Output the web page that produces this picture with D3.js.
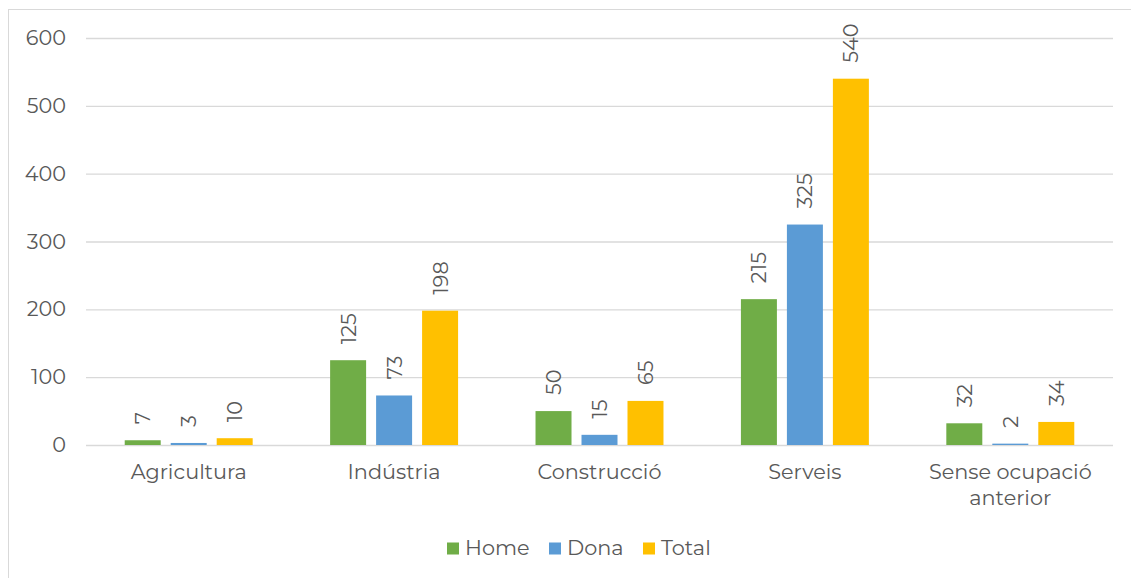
<!DOCTYPE html>
<html><head><meta charset="utf-8">
<script src="https://cdn.jsdelivr.net/npm/d3@7"></script>
<style>
html,body{margin:0;padding:0;background:#fff;}
svg{display:block;}
text{font-family:Montserrat,"DejaVu Sans",sans-serif;fill:#595959;}
</style></head>
<body>
<svg id="chart" width="1131" height="578"></svg>
<script>
const categories = ["Agricultura","Indústria","Construcció","Serveis","Sense ocupació anterior"];
const seriesNames = ["Home","Dona","Total"];
const home = [7,125,50,215,32];
const dona = [3,73,15,325,2];
const total = [10,198,65,540,34];
const yTicks = [0,100,200,300,400,500,600];
const colors = ["#70ad47","#5b9bd5","#ffc000"];

(function(){
const seriesValues = [home, dona, total];
const svg = d3.select("#chart");
const W = 1131, H = 578;
const FS = "20.8px";

svg.append("rect").attr("x",8.5).attr("y",9.5).attr("width",W+10).attr("height",H+10)
  .attr("fill","none").attr("stroke","#d9d9d9").attr("stroke-width",1);

const pLeft = 86, pRight = 1113, pTop = 38, pBottom = 445;
const y = d3.scaleLinear().domain([0,600]).range([pBottom, pTop]);
const x0 = d3.scaleBand().domain(categories).range([pLeft, pRight]).paddingInner(0).paddingOuter(0);
const bw = x0.bandwidth();
const x1 = d3.scaleBand().domain(seriesNames).range([bw*0.1885, bw*0.8115]).paddingInner(10/46).paddingOuter(0);

const yAxis = d3.axisLeft(y).tickValues(yTicks).tickSize(-(pRight-pLeft)).tickPadding(20);
const gy = svg.append("g").attr("transform",`translate(${pLeft},0)`).call(yAxis);
gy.select(".domain").remove();
gy.selectAll(".tick line").attr("stroke","#d9d9d9").attr("stroke-width",1.3);
gy.selectAll(".tick text").style("font-size",FS).attr("fill","#595959")
  .style("font-family",'Montserrat,"DejaVu Sans",sans-serif');

const groups = svg.append("g").selectAll("g").data(categories).join("g")
  .attr("transform", d => `translate(${x0(d)},0)`);
groups.each(function(c, i){
  const g = d3.select(this);
  const data = seriesNames.map((s, j) => ({s, v: seriesValues[j][i], c: colors[j]}));
  g.selectAll("rect").data(data).join("rect")
    .attr("x", d => x1(d.s)).attr("width", x1.bandwidth())
    .attr("y", d => y(d.v)).attr("height", d => y(0) - y(d.v))
    .attr("fill", d => d.c);
  g.selectAll("text.lbl").data(data).join("text").attr("class","lbl")
    .attr("transform", d => `translate(${x1(d.s)+x1.bandwidth()/2 + 7.5},${y(d.v)-16}) rotate(-90)`)
    .attr("text-anchor","start")
    .style("font-size",FS)
    .text(d => d.v);
});

const xl = svg.append("g");
categories.forEach((c) => {
  const cx = x0(c) + bw/2;
  const words = c === "Sense ocupació anterior" ? ["Sense ocupació","anterior"] : [c];
  words.forEach((w, k) => {
    xl.append("text").attr("x", cx).attr("y", 479 + k*26).attr("text-anchor","middle")
      .style("font-size",FS).text(w);
  });
});

const legendX = [447, 549, 643];
const leg = svg.append("g");
seriesNames.forEach((s, j) => {
  leg.append("rect").attr("x", legendX[j]).attr("y", 542.5).attr("width",12).attr("height",12).attr("fill",colors[j]);
  leg.append("text").attr("x", legendX[j]+18).attr("y", 554.5).style("font-size",FS).text(s);
});
})();
</script>
</body></html>
